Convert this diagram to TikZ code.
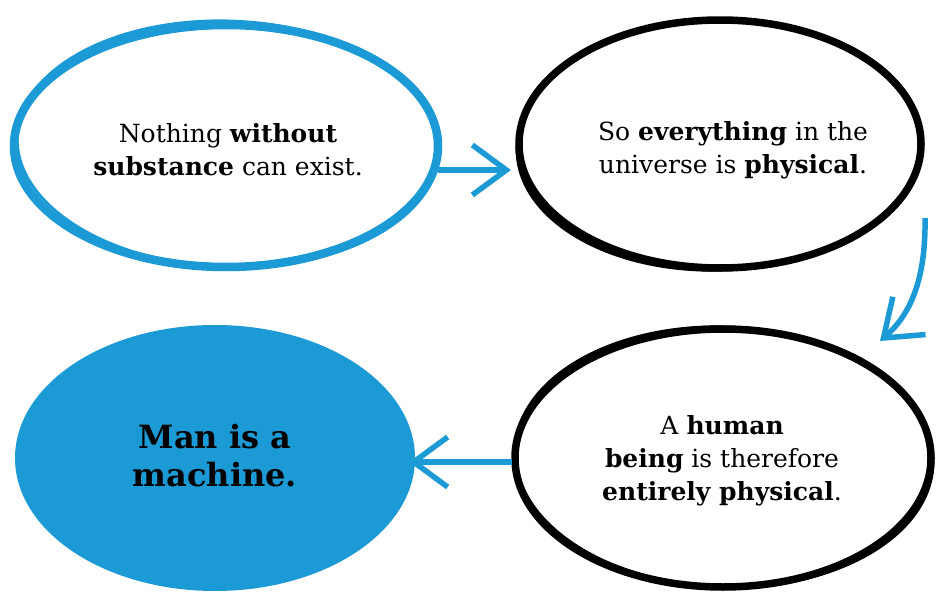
\documentclass[tikz,border=0pt]{standalone}
\usepackage{fontspec}
\setmainfont{DejaVu Serif}
\usetikzlibrary{arrows.meta,shapes.geometric,calc}
\definecolor{sky}{HTML}{1C9AD6}
\begin{document}
\begin{tikzpicture}[x=1pt,y=-1pt,
  txt/.style={ellipse, inner sep=0pt, align=center, font=\fontsize{25}{33}\selectfont},
  big/.style={ellipse, inner sep=0pt, align=center, font=\bfseries\fontsize{32}{38}\selectfont},
  arr/.style={draw=sky, line width=5.5pt, -{Straight Barb[length=34pt,width=50pt]}},
  blueline/.style={draw=sky, line width=8.5pt},
  blackline/.style={draw=black, line width=7.5pt},
  thin/.style={line width=3pt}]
\useasboundingbox (0,0) rectangle (940,594);
\fill[white] (0,0) rectangle (940,594);

% outlines (hand-drawn look: main stroke plus a slightly turned second stroke)
\draw[blueline] (226,146) ellipse [x radius=212, y radius=121];
\draw[blueline, thin, rotate around={-2:(226,146)}] (228,144) ellipse [x radius=211, y radius=123];
\draw[blackline] (720,144) ellipse [x radius=201, y radius=124];
\draw[blackline, thin, rotate around={2:(720,144)}] (719,145) ellipse [x radius=202, y radius=125];
\draw[blackline] (723,458) ellipse [x radius=208, y radius=129];
\draw[blackline, thin, rotate around={-2:(723,458)}] (724,457) ellipse [x radius=209, y radius=130];
\fill[sky] (215,458) ellipse [x radius=200, y radius=133];

% nodes
\node[txt, minimum width=424pt, minimum height=242pt] (a) at (228,150)
  {Nothing \textbf{without}\\\textbf{substance} can exist.};
\node[txt, minimum width=402pt, minimum height=248pt] (b) at (733,150)
  {So \textbf{everything} in the\\universe is \textbf{physical}.};
\node[txt, minimum width=416pt, minimum height=258pt] (c) at (722,461)
  {A \textbf{human}\\\textbf{being} is therefore\\\textbf{entirely physical}.};
\node[big, minimum width=400pt, minimum height=266pt] (d) at (215,456)
  {Man is a\\machine.};

\coordinate (s) at (925,218);
\coordinate (t) at (880,341);

% connectors
\draw[arr] ($(a.center)+(210,20)$) -- ($(b.center)+(-222,20)$);
\draw[arr] (s) .. controls (926,280) and (910,315) .. (t);
\draw[arr] ($(c.center)+(-210,1)$) -- ($(d.center)+(194,6)$);
\end{tikzpicture}
\end{document}
